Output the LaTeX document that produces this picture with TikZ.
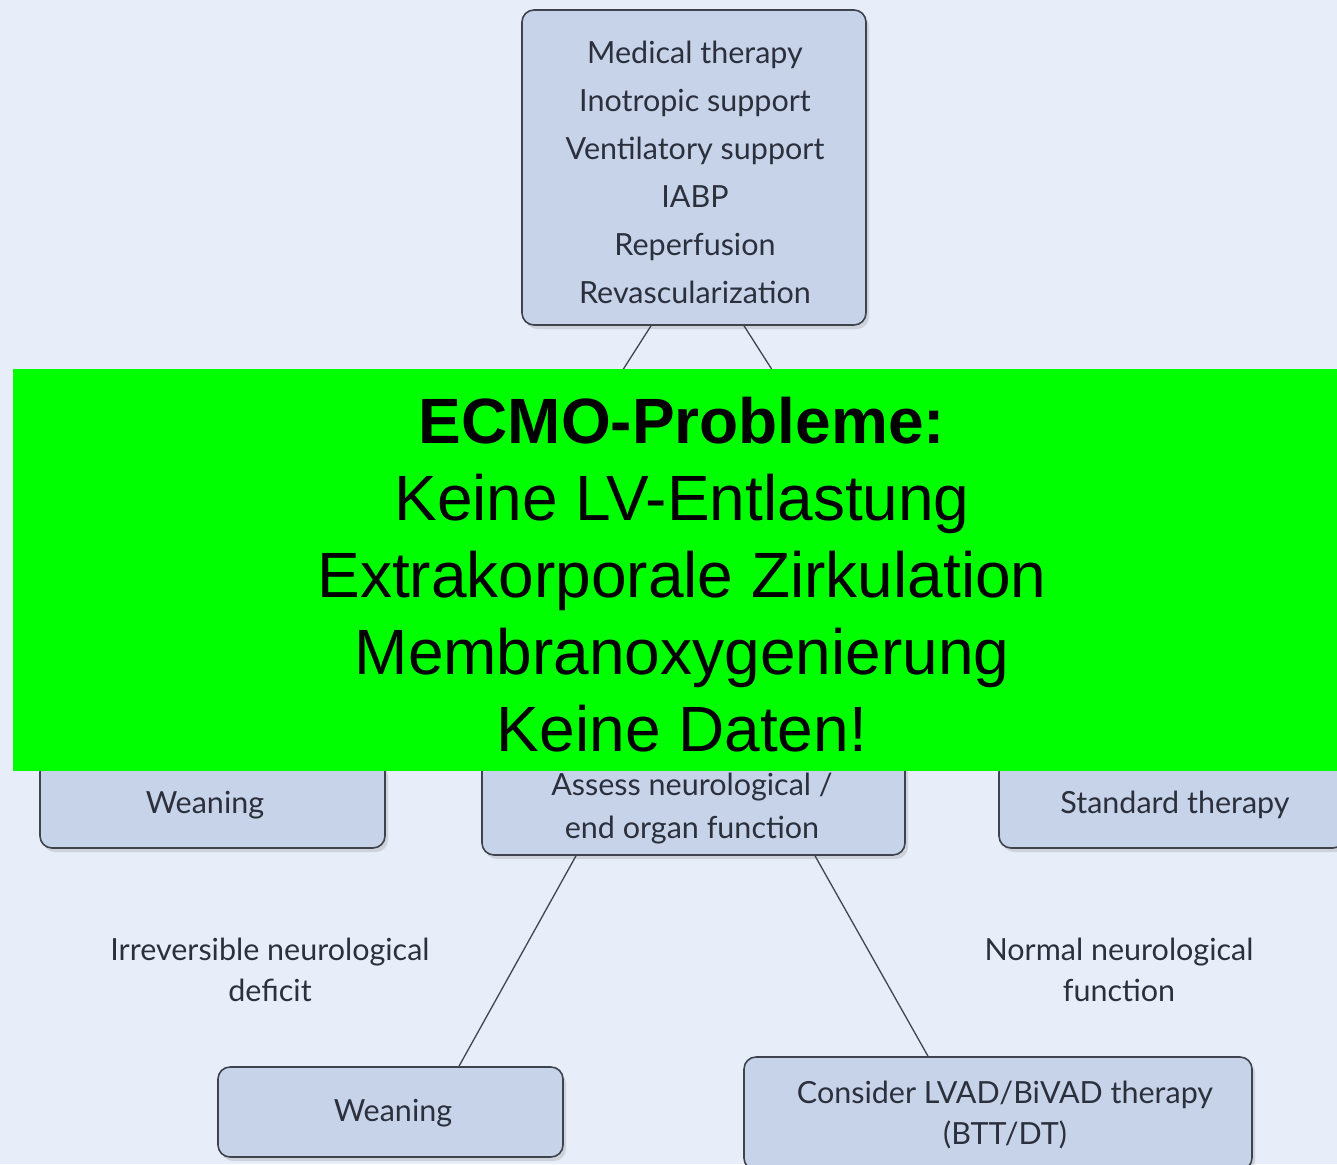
\documentclass[tikz,border=0pt]{standalone}
\usepackage{fontspec}
\setmainfont{Lato}
\newfontfamily\arialfont{Liberation Sans}
\usetikzlibrary{shadows,calc}
\definecolor{bgc}{HTML}{E8EEF9}
\definecolor{boxfill}{HTML}{C6D3E9}
\definecolor{boxline}{HTML}{3E434E}
\definecolor{txt}{HTML}{2B303C}
\definecolor{grn}{HTML}{00FF00}
\begin{document}
\begin{tikzpicture}[x=1pt,y=-1pt,
  box/.style={draw=boxline, line width=1.6pt, fill=boxfill, rounded corners=12pt, inner sep=0pt,
    drop shadow={shadow xshift=3pt, shadow yshift=-4pt, opacity=0.2, fill=black!60}},
  lbl/.style={align=center, text=txt, font=\fontsize{30.5}{41}\selectfont, inner sep=0pt},
  toplbl/.style={lbl, font=\fontsize{30.5}{48}\selectfont},
  conn/.style={draw=txt!90, line width=1.3pt}]
\useasboundingbox (0,0) rectangle (1337,1164);
\fill[bgc] (0,0) rectangle (1337,1164);
\begin{scope}
\clip (0,0) rectangle (1337,1164);
% boxes
\node[box, minimum width=344pt, minimum height=315pt] (top) at (694,167.5) {};
\node[box, minimum width=345pt, minimum height=88pt] (wean1) at (212.5,804) {};
\node[box, minimum width=423pt, minimum height=100pt] (assess) at (693.5,805) {};
\node[box, minimum width=346pt, minimum height=88pt] (std) at (1172,804) {};
\node[box, minimum width=345pt, minimum height=90pt] (wean2) at (390.5,1112) {};
\node[box, minimum width=508pt, minimum height=113pt] (lvad) at (998,1113.5) {};
% box texts
\node[toplbl] (topT) at ($(top.center)+(1,5)$)
  {Medical therapy\\Inotropic support\\Ventilatory support\\IABP\\Reperfusion\\Revascularization};
\node[lbl] (wean1T) at (205,805) {Weaning};
\node[lbl, font=\fontsize{30.5}{43}\selectfont] (assessT) at (692,808.5) {Assess neurological /\\end organ function};
\node[lbl] (stdT) at (1175,805) {Standard therapy};
\node[lbl] (wean2T) at (393,1113) {Weaning};
\node[lbl] (lvadT) at (1005,1115) {Consider LVAD/BiVAD therapy\\(BTT/DT)};
% connectors
\coordinate (h1) at (610,390);
\coordinate (h2) at (785,390);
\draw[conn] ($(top.south)+(-43,0)$) -- (h1);
\draw[conn] ($(top.south)+(50,0)$) -- (h2);
\draw[conn] ($(assess.south)+(-117.5,0)$) -- ($(wean2.north)+(68.5,0)$);
\draw[conn] ($(assess.south)+(121.5,0)$) -- ($(lvad.north)+(-70,0)$);
% edge labels
\node[lbl] (irr) at (270,970) {Irreversible neurological\\deficit};
\node[lbl] (norm) at (1119,970) {Normal neurological\\function};
% green overlay
\node[fill=grn, minimum width=1324pt, minimum height=402pt, inner sep=0pt] (green) at (675,570) {};
\node[align=center, inner sep=0pt, text=black, font=\arialfont\fontsize{64}{77}\selectfont] (gtext) at (682,575)
  {\textbf{ECMO-Probleme:}\\Keine LV-Entlastung\\Extrakorporale Zirkulation\\Membranoxygenierung\\Keine Daten!};
\end{scope}
\end{tikzpicture}
\end{document}
